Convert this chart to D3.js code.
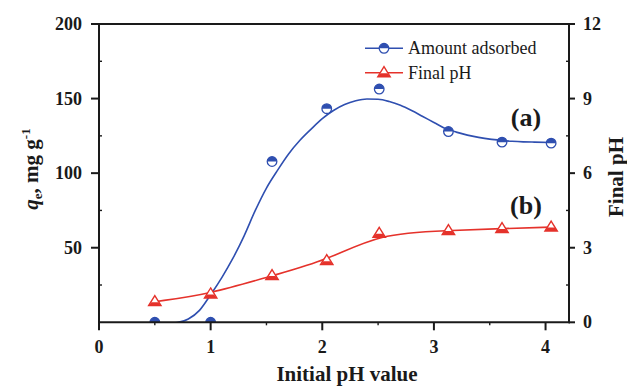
<!DOCTYPE html>
<html>
<head>
<meta charset="utf-8">
<script src="https://cdn.jsdelivr.net/npm/d3@7"></script>
<style>
  html, body { margin: 0; padding: 0; background: #fff; }
  svg { display: block; font-family: "Liberation Serif", "Times New Roman", serif; }
</style>
</head>
<body>
<svg id="chart" width="627" height="387"></svg>
<script>
// Initial pH of each experiment
const initialPH = [0.5, 1.0, 1.55, 2.04, 2.51, 3.13, 3.61, 4.05];
// Amount adsorbed, q_e (mg/g)
const amountAdsorbed = [0, 0, 107.8, 143.2, 156.4, 127.9, 120.8, 120.1];
// Final pH of the solution
const finalPH = [0.83, 1.14, 1.88, 2.48, 3.58, 3.69, 3.77, 3.83];
// Fitted curve through the adsorption data
const fitX = [0.5, 0.6, 0.7, 0.8, 0.9, 1.0, 1.1, 1.2, 1.3, 1.4, 1.5, 1.6, 1.7, 1.8, 1.9, 2.0,
              2.1, 2.2, 2.3, 2.4, 2.5, 2.6, 2.7, 2.8, 2.9, 3.0, 3.1, 3.2, 3.3, 3.4, 3.5, 3.6,
              3.7, 3.8, 3.9, 4.05];
const fitQ = [0, -0.8, -0.2, 2.2, 8, 18.5, 30, 43, 58, 75, 90, 102, 113, 122, 129.5, 136.5,
              142, 146, 148.5, 149.7, 149.5, 148, 145.5, 142, 138, 134, 130, 127.5, 125.5, 124, 122.8, 122,
              121.4, 121, 120.8, 120.6];
// Axis ticks
const xTicks = [0, 1, 2, 3, 4];
const xMinor = [0.5, 1.5, 2.5, 3.5];
const qTicks = [50, 100, 150, 200];
const qMinor = [25, 75, 125, 175];
const pHTicks = [0, 3, 6, 9, 12];
const pHMinor = [1.5, 4.5, 7.5, 10.5];
const seriesNames = ["Amount adsorbed", "Final pH"];

const BLUE = "#2f4fb0";
const RED = "#e5322b";
const INK = "#1a1a1a";

const svg = d3.select("#chart");
const L = 99, R = 569, T = 24, B = 322.3;

const x = d3.scaleLinear().domain([0, 4.21]).range([L, R]);
const yQ = d3.scaleLinear().domain([0, 200]).range([B, T]);
const yP = d3.scaleLinear().domain([0, 12]).range([B, T]);

svg.append("defs").append("clipPath").attr("id", "plotClip")
  .append("rect").attr("x", L).attr("y", T).attr("width", R - L).attr("height", B - T);

const plot = svg.append("g").attr("clip-path", "url(#plotClip)");

// smoothed curves
plot.append("path")
  .datum(fitX.map((v, i) => [v, fitQ[i]]))
  .attr("fill", "none").attr("stroke", BLUE).attr("stroke-width", 1.6)
  .attr("d", d3.line().x(d => x(d[0])).y(d => yQ(d[1])).curve(d3.curveMonotoneX));

plot.append("path")
  .datum(initialPH.map((v, i) => [v, finalPH[i]]))
  .attr("fill", "none").attr("stroke", RED).attr("stroke-width", 1.6)
  .attr("d", d3.line().x(d => x(d[0])).y(d => yP(d[1])).curve(d3.curveBasis));

// marker helpers
function halfCircle(g, cx, cy) {
  const r = 4.8;
  const m = g.append("g").attr("transform", `translate(${cx},${cy})`);
  m.append("circle").attr("r", r).attr("fill", "#fff").attr("stroke", BLUE).attr("stroke-width", 1.3);
  m.append("path").attr("d", `M${-r},0 A${r},${r} 0 0 1 ${r},0 Z`).attr("fill", BLUE);
}
function halfTriangle(g, cx, cy) {
  const w = 6.2, h = 10;
  const m = g.append("g").attr("transform", `translate(${cx},${cy})`);
  m.append("path").attr("d", `M0,${-h * 0.6} L${w},${h * 0.4} L${-w},${h * 0.4} Z`)
    .attr("fill", "#fff").attr("stroke", RED).attr("stroke-width", 1.4).attr("stroke-linejoin", "miter");
  m.append("path").attr("d", `M${-w * 0.55},${h * 0.05} L${w * 0.55},${h * 0.05} L${w},${h * 0.4} L${-w},${h * 0.4} Z`)
    .attr("fill", RED);
}

initialPH.forEach((v, i) => halfCircle(plot, x(v), yQ(amountAdsorbed[i])));
initialPH.forEach((v, i) => halfTriangle(plot, x(v), yP(finalPH[i])));

// frame
const axes = svg.append("g").attr("stroke", INK).attr("stroke-width", 2).attr("fill", "none");
axes.append("line").attr("x1", L).attr("x2", L).attr("y1", T - 1).attr("y2", B + 1);
axes.append("line").attr("x1", R).attr("x2", R).attr("y1", T - 1).attr("y2", B + 1);
axes.append("line").attr("x1", L - 1).attr("x2", R + 1).attr("y1", T).attr("y2", T);
axes.append("line").attr("x1", L - 1).attr("x2", R + 1).attr("y1", B).attr("y2", B);

// major ticks
xTicks.forEach(t => axes.append("line").attr("x1", x(t)).attr("x2", x(t)).attr("y1", B).attr("y2", B + 8));
qTicks.forEach(t => axes.append("line").attr("x1", L - 8).attr("x2", L).attr("y1", yQ(t)).attr("y2", yQ(t)));
pHTicks.forEach(t => axes.append("line").attr("x1", R).attr("x2", R + 6).attr("y1", yP(t)).attr("y2", yP(t)));
// minor ticks
const minor = svg.append("g").attr("stroke", INK).attr("stroke-width", 1.4);
xMinor.forEach(t => minor.append("line").attr("x1", x(t)).attr("x2", x(t)).attr("y1", B).attr("y2", B + 3));
qMinor.forEach(t => minor.append("line").attr("x1", L).attr("x2", L + 3).attr("y1", yQ(t)).attr("y2", yQ(t)));
pHMinor.forEach(t => minor.append("line").attr("x1", R - 3).attr("x2", R).attr("y1", yP(t)).attr("y2", yP(t)));

// tick labels
const lab = svg.append("g").attr("fill", INK).attr("font-weight", "bold").attr("font-size", 18);
xTicks.forEach(t => lab.append("text").attr("x", x(t)).attr("y", B + 31).attr("text-anchor", "middle").text(t));
qTicks.forEach(t => lab.append("text").attr("x", L - 17).attr("y", yQ(t)).attr("dy", "0.33em").attr("text-anchor", "end").text(t));
pHTicks.forEach(t => lab.append("text").attr("x", R + 14).attr("y", yP(t)).attr("dy", "0.33em").attr("text-anchor", "start").text(t));

// axis titles
svg.append("text").attr("x", 347).attr("y", 381).attr("text-anchor", "middle")
  .attr("font-weight", "bold").attr("font-size", 21).attr("fill", INK).text("Initial pH value");

const qTitle = svg.append("text").attr("transform", "translate(38,169) rotate(-90)")
  .attr("text-anchor", "middle").attr("font-weight", "bold").attr("font-size", 21).attr("fill", INK);
qTitle.append("tspan").attr("font-style", "italic").text("q");
qTitle.append("tspan").attr("font-size", 13).attr("dy", 4).text("e");
qTitle.append("tspan").attr("dy", -4).text(", mg g");
qTitle.append("tspan").attr("font-size", 13).attr("dy", -8).text("-1");

svg.append("text").attr("transform", "translate(623,177) rotate(-90)")
  .attr("text-anchor", "middle").attr("font-weight", "bold").attr("font-size", 21).attr("fill", INK)
  .text("Final pH");

// panel letters
svg.append("text").attr("x", 526).attr("y", 126).attr("text-anchor", "middle")
  .attr("font-weight", "bold").attr("font-size", 26).attr("fill", INK).text("(a)");
svg.append("text").attr("x", 526).attr("y", 214).attr("text-anchor", "middle")
  .attr("font-weight", "bold").attr("font-size", 26).attr("fill", INK).text("(b)");

// legend
const leg = svg.append("g");
const legY = [48.3, 72.7];
leg.append("line").attr("x1", 365).attr("x2", 403).attr("y1", legY[0]).attr("y2", legY[0])
  .attr("stroke", BLUE).attr("stroke-width", 1.6);
halfCircle(leg, 384, legY[0]);
leg.append("line").attr("x1", 365).attr("x2", 403).attr("y1", legY[1]).attr("y2", legY[1])
  .attr("stroke", RED).attr("stroke-width", 1.6);
halfTriangle(leg, 384, legY[1]);
seriesNames.forEach((n, i) => leg.append("text").attr("x", 408).attr("y", legY[i]).attr("dy", "0.33em")
  .attr("font-size", 18).attr("fill", INK).text(n));
</script>
</body>
</html>
